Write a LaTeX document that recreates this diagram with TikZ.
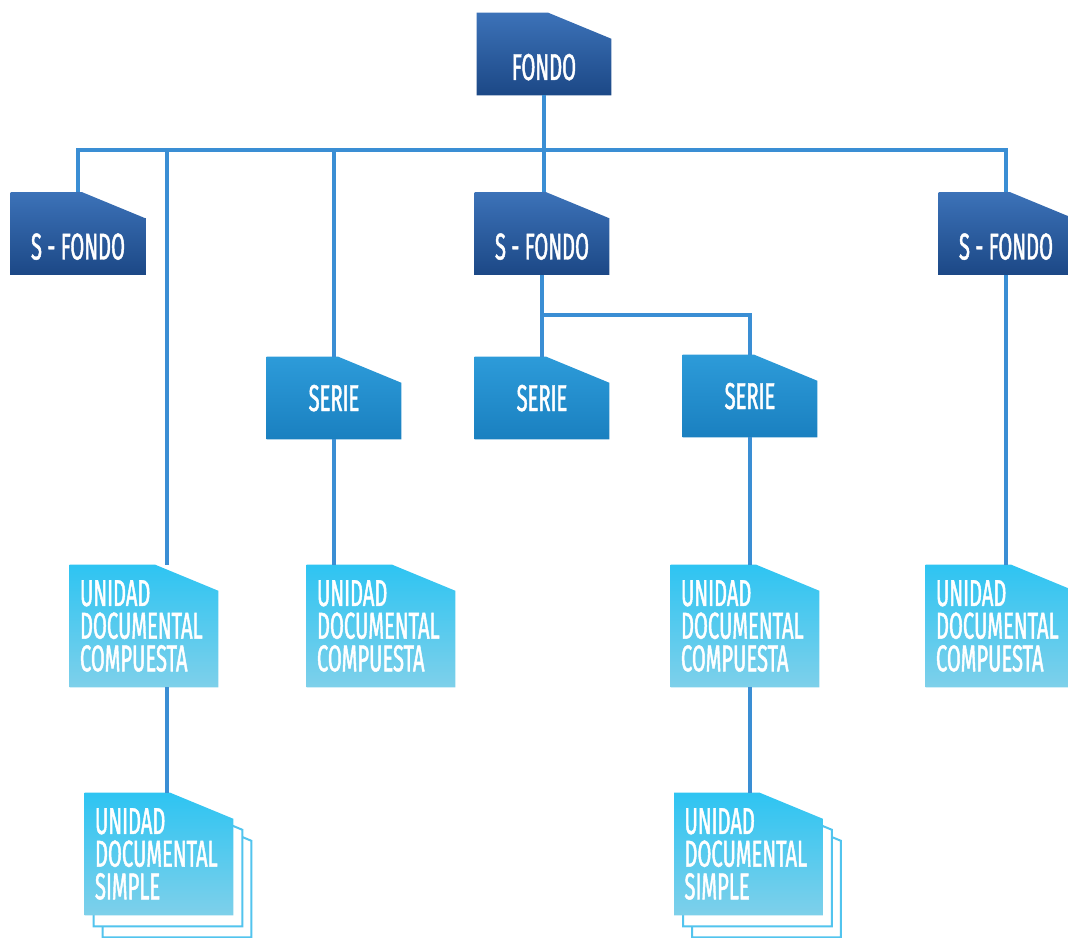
\documentclass[tikz,border=0pt]{standalone}
\usepackage{fontspec}
\newfontfamily\cond[FakeStretch=0.54,FakeBold=1.2]{Fira Sans}
\usetikzlibrary{calc,backgrounds}
\definecolor{linkblue}{HTML}{3A8ED4}
\definecolor{fondoTop}{HTML}{3C72B8}
\definecolor{fondoBot}{HTML}{1C4886}
\definecolor{serieTop}{HTML}{2D9BD9}
\definecolor{serieBot}{HTML}{1A80C0}
\definecolor{udTop}{HTML}{2EC4F2}
\definecolor{udBot}{HTML}{7ED0EA}
\definecolor{sheetblue}{HTML}{52C4EE}
\tikzset{
  conn/.style={draw=linkblue, line width=3pt},
  cutbox/.style={inner sep=0pt, text=white,
    font=\cond\fontsize{28}{24.5}\selectfont},
  topbox/.style={cutbox, minimum width=134*0.75pt, minimum height=82*0.75pt,
    text height=39pt, text depth=0pt},
  seriebox/.style={cutbox, minimum width=134*0.75pt, minimum height=82*0.75pt,
    text height=19.5pt, text depth=0pt},
  udbox/.style={cutbox, minimum width=148*0.75pt, minimum height=122*0.75pt,
    text width=128*0.75pt, align=left},
  sheet/.style={draw=sheetblue, fill=white, line width=1.5pt},
}
\begin{document}
\begin{tikzpicture}[x=0.75pt,y=-0.75pt]
\useasboundingbox (0,0) rectangle (1068,938);
\clip (0,0) rectangle (1068,938);

\node[topbox] (fondo) at (544,54) {FONDO};
\node[topbox] (sf1) at (78,233.5) {S - FONDO};
\node[topbox] (sf2) at (542,233.5) {S - FONDO};
\node[topbox] (sf3) at (1006,233.5) {S - FONDO};

\node[seriebox] (ser1) at (334,398) {SERIE};
\node[seriebox] (ser2) at (542,398) {SERIE};
\node[seriebox] (ser3) at (750,396) {SERIE};

\node[udbox] (udc1) at (144,626) {UNIDAD\\DOCUMENTAL\\COMPUESTA};
\node[udbox] (udc2) at (381,626) {UNIDAD\\DOCUMENTAL\\COMPUESTA};
\node[udbox] (udc3) at (745,626) {UNIDAD\\DOCUMENTAL\\COMPUESTA};
\node[udbox] (udc4) at (1000,626) {UNIDAD\\DOCUMENTAL\\COMPUESTA};

\node[udbox] (uds1) at (159,854) {UNIDAD\\DOCUMENTAL\\SIMPLE};
\node[udbox] (uds2) at (748.5,854) {UNIDAD\\DOCUMENTAL\\SIMPLE};

\begin{scope}[on background layer]
\foreach \n in {uds1,uds2}{
  \foreach \d in {2,1}{
    \draw[sheet] ($(\n.north west)+(\d*9,\d*11)$)
      -- ($(\n.north east)+(\d*9-63,\d*11)$)
      -- ($(\n.north east)+(\d*9,\d*11+26)$)
      -- ($(\n.south east)+(\d*9,\d*11)$)
      -- ($(\n.south west)+(\d*9,\d*11)$) -- cycle;
  }
}
\foreach \n/\ct/\cb in {fondo/fondoTop/fondoBot, sf1/fondoTop/fondoBot, sf2/fondoTop/fondoBot,
    sf3/fondoTop/fondoBot, ser1/serieTop/serieBot, ser2/serieTop/serieBot, ser3/serieTop/serieBot,
    udc1/udTop/udBot, udc2/udTop/udBot, udc3/udTop/udBot, udc4/udTop/udBot,
    uds1/udTop/udBot, uds2/udTop/udBot}{
  \shade[top color=\ct, bottom color=\cb] (\n.north west)
    -- ($(\n.north east)+(-63,0)$)
    -- ($(\n.north east)+(0,26)$)
    -- (\n.south east) -- (\n.south west) -- cycle;
}
\end{scope}

\coordinate (bus) at (0,150);
\coordinate (t1) at (167,150);
\coordinate (br) at (542,315);

\draw[conn] (sf1.north) -- (sf1.north |- bus) -- (sf3.north |- bus) -- (sf3.north);
\draw[conn] (fondo.south) -- (fondo.south |- sf2.north);
\draw[conn] (t1) -- (t1 |- udc1.north);
\draw[conn] (ser1.north |- bus) -- (ser1.north);
\draw[conn] (ser1.south) -- (ser1.south |- udc2.north);
\draw[conn] (sf2.south) -- (ser2.north);
\draw[conn] (br) -| (ser3.north);
\draw[conn] (ser3.south) -- (ser3.south |- udc3.north);
\draw[conn] (ser3.south |- udc3.south) -- (ser3.south |- uds2.north);
\draw[conn] (sf3.south) -- (sf3.south |- udc4.north);
\draw[conn] (t1 |- udc1.south) -- (t1 |- uds1.north);
\end{tikzpicture}
\end{document}
